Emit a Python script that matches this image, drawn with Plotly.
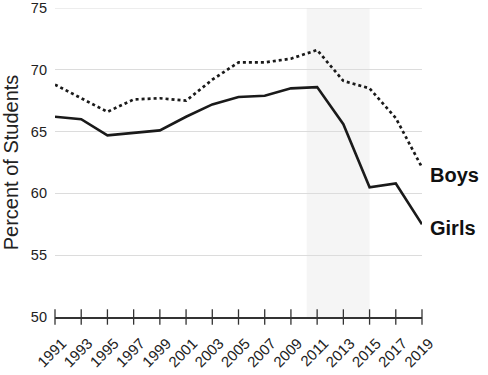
import plotly.graph_objects as go

years = [1991, 1993, 1995, 1997, 1999, 2001, 2003, 2005, 2007, 2009, 2011, 2013, 2015, 2017, 2019]
boys = [68.8, 67.7, 66.6, 67.6, 67.7, 67.5, 69.2, 70.6, 70.6, 70.9, 71.6, 69.1, 68.5, 66.1, 62.1]
girls = [66.2, 66.0, 64.7, 64.9, 65.1, 66.2, 67.2, 67.8, 67.9, 68.5, 68.6, 65.6, 60.5, 60.8, 57.5]
tick_years = years
y_ticks = [50, 55, 60, 65, 70, 75]
shade_start, shade_end = 2010.2, 2015.0

fig = go.Figure()
fig.add_shape(type="rect", xref="x", yref="y", x0=shade_start, x1=shade_end, y0=50, y1=75,
              fillcolor="#f5f5f5", line_width=0, layer="below")
# top grid line (plotly drops grid lines that sit exactly on the plot edge)
fig.add_shape(type="line", xref="x", yref="y", x0=years[0], x1=years[-1], y0=75, y1=75,
              line=dict(color="#dcdcdc", width=1), layer="below")

fig.add_trace(go.Scatter(x=years, y=boys, mode="lines", line=dict(color="#1a1a1a", width=2.7, dash="dot"),
                         cliponaxis=False, showlegend=False, hoverinfo="skip"))
fig.add_trace(go.Scatter(x=years, y=girls, mode="lines", line=dict(color="#1a1a1a", width=2.6),
                         cliponaxis=False, showlegend=False, hoverinfo="skip"))
# crossing tick marks on the x axis
fig.add_trace(go.Scatter(x=tick_years, y=[50] * len(tick_years), mode="markers",
                         marker=dict(symbol="line-ns-open", size=11, color="#333",
                                     line=dict(color="#333", width=1.3)),
                         cliponaxis=False, showlegend=False, hoverinfo="skip"))

fig.add_annotation(x=years[-1], y=boys[-1], text="<b>Boys</b>", xref="x", yref="y", showarrow=False,
                   xanchor="left", xshift=6, yshift=-8, font=dict(size=20, color="#111", family="Liberation Sans"))
fig.add_annotation(x=years[-1], y=girls[-1], text="<b>Girls</b>", xref="x", yref="y", showarrow=False,
                   xanchor="left", xshift=6, yshift=-4, font=dict(size=20, color="#111", family="Liberation Sans"))

fig.update_layout(
    width=488, height=375,
    margin=dict(l=55, r=66, t=8, b=58, autoexpand=False),
    plot_bgcolor="white", paper_bgcolor="white",
    font=dict(family="Liberation Sans", color="#222"),
)
fig.update_xaxes(range=[1991, 2019], tickmode="array", tickvals=tick_years,
                 ticktext=[str(y) for y in tick_years], tickangle=-45,
                 tickfont=dict(size=15, color="#222"), showgrid=False, zeroline=False,
                 showline=True, linecolor="#333", linewidth=1.5, ticks="", ticklabelstandoff=10,
                 ticklabelshift=7, automargin=False, ticklabeloverflow="allow")
fig.update_yaxes(range=[50, 75], tickvals=y_ticks, tickfont=dict(size=14.5, color="#222"),
                 showgrid=True, gridcolor="#dcdcdc", gridwidth=1, zeroline=False, showline=False,
                 title=dict(text="Percent of Students", font=dict(size=20, color="#222"), standoff=17),
                 ticks="", ticklabelstandoff=7, automargin=False, ticklabeloverflow="allow")

fig.write_html("out.html", config={"displayModeBar": False},
               post_script="document.body.style.margin='0';")
